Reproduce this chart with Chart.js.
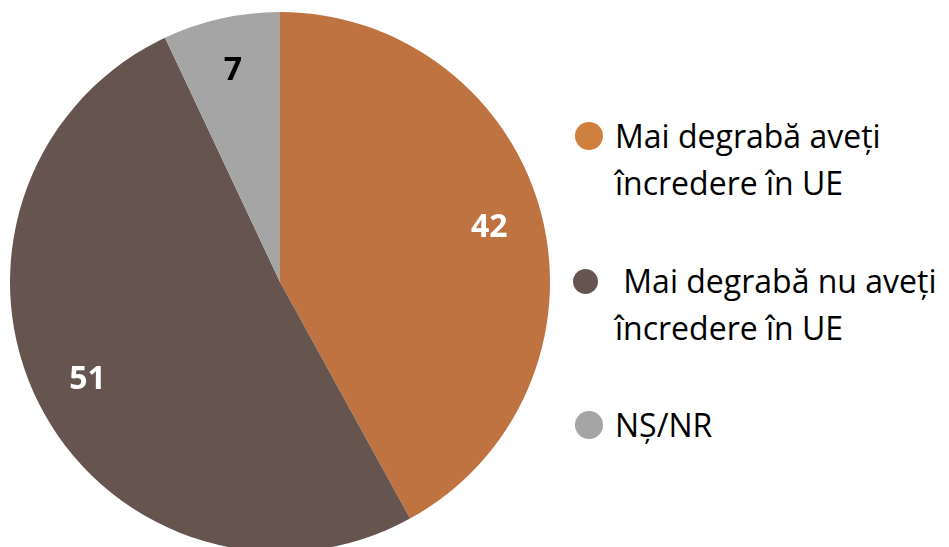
<!DOCTYPE html>
<html>
<head>
<meta charset="utf-8">
<script src="https://cdn.jsdelivr.net/npm/chart.js@4"></script>
<style>
  html, body { margin: 0; padding: 0; background: #fff; overflow: hidden; }
  body { width: 949px; height: 547px; position: relative; }
  #wrap { position: absolute; left: 0; top: 0; width: 560px; height: 564px; }
  #legend { position: absolute; left: 573px; top: 112px; font-family: "Open Sans", sans-serif; font-size: 32px; color: #000; }
  .item { position: relative; padding-left: 42px; line-height: 47px; white-space: pre; }
  .dot { position: absolute; left: 2px; width: 28px; height: 28px; border-radius: 50%; top: 10px; }
</style>
</head>
<body>
<div id="wrap"><canvas id="pie"></canvas></div>
<div id="legend"></div>
<script>
'use strict';

var categories = [
    ['Mai degrabă aveți', 'încredere în UE'],
    [' Mai degrabă nu aveți', 'încredere în UE'],
    ['NȘ/NR']
];
var values = [42, 51, 7];
var sliceColors = ['#BE7341', '#66554F', '#A5A5A5'];
var dotColors = ['#CF7F3E', '#66554F', '#A5A5A5'];
var valueColors = ['#FFFFFF', '#FFFFFF', '#000000'];

// value labels placed at ~80% of the radius
var valueLabels = {
    id: 'valueLabels',
    afterDatasetsDraw: function (chart) {
        var ctx = chart.ctx;
        chart.getDatasetMeta(0).data.forEach(function (arc, i) {
            var mid = (arc.startAngle + arc.endAngle) / 2,
                r = arc.outerRadius * 0.8;
            ctx.save();
            ctx.font = 'bold 32px "Open Sans", sans-serif';
            ctx.fillStyle = valueColors[i];
            ctx.textAlign = 'center';
            ctx.textBaseline = 'middle';
            ctx.fillText(String(values[i]), arc.x + Math.cos(mid) * r, arc.y + Math.sin(mid) * r);
            ctx.restore();
        });
    }
};

var chart = new Chart(document.getElementById('pie'), {
    type: 'pie',
    data: {
        labels: categories,
        datasets: [{
            data: values,
            backgroundColor: sliceColors,
            borderWidth: 0
        }]
    },
    options: {
        responsive: true,
        maintainAspectRatio: false,
        animation: false,
        layout: { padding: 10 },
        plugins: {
            legend: { display: false },
            tooltip: { enabled: false }
        }
    },
    plugins: [valueLabels]
});

// html legend built from the chart data
var legend = document.getElementById('legend');
var gaps = [0, 51, 50];
chart.data.labels.forEach(function (lines, i) {
    var item = document.createElement('div');
    item.className = 'item';
    item.style.marginTop = gaps[i] + 'px';
    item.textContent = lines.join('\n');
    var dot = document.createElement('span');
    dot.className = 'dot';
    dot.style.background = dotColors[i];
    if (i === 1) { dot.style.left = '0px'; dot.style.width = '25px'; dot.style.height = '25px'; dot.style.top = '12px'; }
    item.appendChild(dot);
    legend.appendChild(item);
});
</script>
</body>
</html>
